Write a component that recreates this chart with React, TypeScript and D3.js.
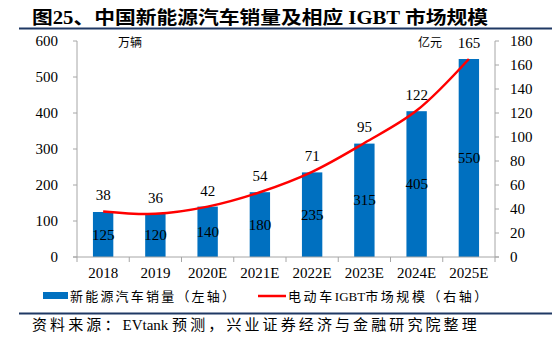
import React from "react";
import * as d3 from "d3";

const categories = ["2018", "2019", "2020E", "2021E", "2022E", "2023E", "2024E", "2025E"];
const salesValues = [125, 120, 140, 180, 235, 315, 405, 550];
const igbtValues = [38, 36, 42, 54, 71, 95, 122, 165];
const leftTicks = [0, 100, 200, 300, 400, 500, 600];
const rightTicks = [0, 20, 40, 60, 80, 100, 120, 140, 160, 180];

const titleText = "图25、中国新能源汽车销量及相应 IGBT 市场规模";
const sourceText = "资料来源：EVtank 预测，兴业证券经济与金融研究院整理";
const legendBar = "新能源汽车销量（左轴）";
const legendLine = "电动车IGBT市场规模（右轴）";
const leftUnit = "万辆";
const rightUnit = "亿元";

const FONT = "'Liberation Serif', 'Times New Roman', 'Noto Sans CJK SC', serif";
const W = 552;
const H = 343;
const plotLeft = 77;
const plotRight = 495;
const plotTop = 41;
const plotBottom = 257;

function runs(s: string) {
  const out: { t: string; cjk: boolean }[] = [];
  for (const ch of s) {
    const cjk = /[\u3000-\u9fff\uff00-\uffef]/.test(ch);
    const last = out[out.length - 1];
    if (last && last.cjk === cjk) last.t += ch;
    else out.push({ t: ch, cjk });
  }
  return out;
}

function SpacedText(props: { x: number; y: number; size: number; spacing: number; text: string }) {
  return (
    <text x={props.x} y={props.y} fontSize={props.size} fill="#000">
      {runs(props.text).map((r, i) => (
        <tspan key={i} letterSpacing={r.cjk ? props.spacing : 0}>
          {r.t}
        </tspan>
      ))}
    </text>
  );
}

export default function App() {
  const x = d3.scaleBand<string>().domain(categories).range([plotLeft, plotRight]).paddingInner(0.61).paddingOuter(0.305);
  const xOuter = d3.scaleBand<string>().domain(categories).range([plotLeft, plotRight]);
  const yL = d3.scaleLinear().domain([0, 600]).range([plotBottom, plotTop]);
  const yR = d3.scaleLinear().domain([0, 180]).range([plotBottom, plotTop]);
  const cx = (c: string) => (xOuter(c) as number) + xOuter.bandwidth() / 2;
  const line = d3
    .line<number>()
    .x((_, i) => cx(categories[i]))
    .y((d) => yR(d))
    .curve(d3.curveCatmullRom.alpha(0.5));
  const axisColor = "#A6A6A6";
  const bounds = categories.map((c) => xOuter(c) as number).concat([plotRight]);

  return (
    <svg width={W} height={H} style={{ position: "absolute", left: 0, top: 0, background: "#fff" }} fontFamily={FONT}>
      <rect x={0} y={0} width={W} height={H} fill="#fff" />
      <text x={32} y={24} fontSize={18} fontWeight="bold" fill="#000" textLength={456} lengthAdjust="spacingAndGlyphs">
        {titleText}
      </text>
      <line x1={19} x2={W} y1={28.5} y2={28.5} stroke="#1F3864" strokeWidth={2} />

      {/* bars */}
      {categories.map((c, i) => (
        <rect key={c} x={x(c)} y={yL(salesValues[i])} width={x.bandwidth()} height={plotBottom - yL(salesValues[i])} fill="#0070C0" />
      ))}

      {/* axes */}
      <line x1={plotLeft} x2={plotLeft} y1={plotTop} y2={plotBottom} stroke={axisColor} />
      <line x1={plotRight} x2={plotRight} y1={plotTop} y2={plotBottom} stroke={axisColor} />
      <line x1={plotLeft - 4} x2={plotRight + 4} y1={plotBottom} y2={plotBottom} stroke={axisColor} />
      {leftTicks.map((t) => (
        <g key={"l" + t}>
          <line x1={plotLeft - 4} x2={plotLeft} y1={yL(t)} y2={yL(t)} stroke={axisColor} />
          <text x={58} y={yL(t) + 5} fontSize={15} textAnchor="end" fill="#000">
            {t}
          </text>
        </g>
      ))}
      {rightTicks.map((t) => (
        <g key={"r" + t}>
          <line x1={plotRight} x2={plotRight + 4} y1={yR(t)} y2={yR(t)} stroke={axisColor} />
          <text x={510} y={yR(t) + 5} fontSize={15} textAnchor="start" fill="#000">
            {t}
          </text>
        </g>
      ))}
      {bounds.map((b, i) => (
        <line key={"xt" + i} x1={b} x2={b} y1={plotBottom} y2={plotBottom + 5} stroke={axisColor} />
      ))}
      {categories.map((c) => (
        <text key={"xl" + c} x={cx(c)} y={278} fontSize={15} textAnchor="middle" fill="#000">
          {c}
        </text>
      ))}

      {/* bar labels */}
      {categories.map((c, i) => (
        <text key={"bl" + c} x={cx(c)} y={(yL(salesValues[i]) + plotBottom) / 2 + 5} fontSize={15} textAnchor="middle" fill="#000">
          {salesValues[i]}
        </text>
      ))}

      {/* line */}
      <path d={line(igbtValues) as string} fill="none" stroke="#FF0000" strokeWidth={2.5} />
      {categories.map((c, i) => (
        <text key={"ll" + c} x={cx(c)} y={yR(igbtValues[i]) - 11} fontSize={15} textAnchor="middle" fill="#000">
          {igbtValues[i]}
        </text>
      ))}

      <text x={118} y={47} fontSize={12} fill="#000">{leftUnit}</text>
      <text x={418} y={47} fontSize={12} fill="#000">{rightUnit}</text>

      {/* legend */}
      <rect x={43} y={292} width={25} height={7} fill="#0070C0" />
      <SpacedText x={70} y={301} size={13} spacing={2.2} text={legendBar} />
      <line x1={258} x2={286} y1={296} y2={296} stroke="#FF0000" strokeWidth={2.5} />
      <SpacedText x={288} y={301} size={13} spacing={2.6} text={legendLine} />

      <line x1={19} x2={W} y1={313.5} y2={313.5} stroke="#1F3864" strokeWidth={2} />
      <SpacedText x={32} y={330} size={15} spacing={3.1} text={sourceText.replace("EVtank ", "EVtank\u00a0")} />
    </svg>
  );
}
